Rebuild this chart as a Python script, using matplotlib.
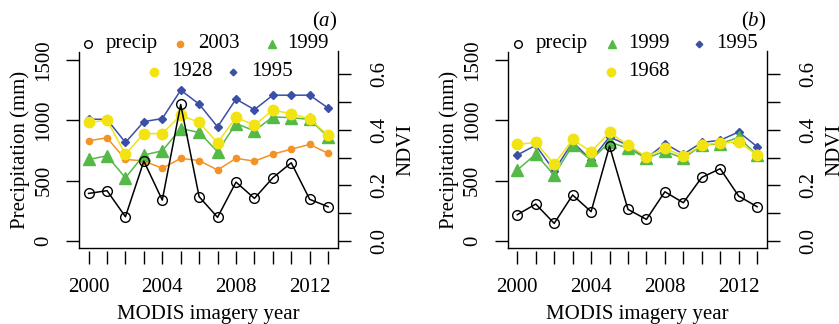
import numpy as np
import matplotlib
matplotlib.use("Agg")
import matplotlib.pyplot as plt

plt.rcParams['font.family'] = ['Liberation Serif', 'DejaVu Serif']
plt.rcParams['mathtext.fontset'] = 'custom'
plt.rcParams['mathtext.it'] = 'Liberation Serif:italic'
plt.rcParams['mathtext.rm'] = 'Liberation Serif'

# datos
years = np.arange(2000, 2014)

precip_a = [394, 417, 201, 662, 339, 1131, 367, 196, 488, 353, 524, 648, 345, 284]
ndvi_a_2003 = [0.360, 0.371, 0.293, 0.288, 0.261, 0.297, 0.289, 0.255, 0.297, 0.287, 0.312, 0.330, 0.347, 0.315]
ndvi_a_1999 = [0.293, 0.306, 0.227, 0.309, 0.324, 0.404, 0.390, 0.321, 0.422, 0.396, 0.446, 0.443, 0.437, 0.374]
ndvi_a_1928 = [0.426, 0.434, 0.312, 0.386, 0.386, 0.452, 0.426, 0.353, 0.444, 0.417, 0.470, 0.458, 0.438, 0.380]
ndvi_a_1995 = [0.438, 0.437, 0.354, 0.429, 0.440, 0.542, 0.492, 0.410, 0.510, 0.472, 0.524, 0.524, 0.524, 0.478]

precip_b = [218, 306, 146, 381, 243, 786, 262, 179, 408, 317, 527, 599, 372, 284]
ndvi_b_1999 = [0.255, 0.312, 0.237, 0.344, 0.291, 0.356, 0.333, 0.297, 0.323, 0.297, 0.344, 0.350, 0.372, 0.309]
ndvi_b_1995 = [0.309, 0.344, 0.252, 0.356, 0.291, 0.374, 0.344, 0.297, 0.350, 0.312, 0.354, 0.362, 0.392, 0.339]
ndvi_b_1968 = [0.347, 0.354, 0.276, 0.365, 0.321, 0.390, 0.344, 0.303, 0.333, 0.305, 0.344, 0.353, 0.356, 0.309]

orange = '#F39325'
green = '#55B947'
yellow = '#F2E313'
blue = '#3C4FA6'

# estilos de cada serie
styles = {
    '2003': dict(color=orange, marker='o', ms=4.5, z=2),
    '1999': dict(color=green, marker='^', ms=8, z=3),
    '1928': dict(color=yellow, marker='o', ms=7.5, z=4),
    '1968': dict(color=yellow, marker='o', ms=7.5, z=4),
    '1995': dict(color=blue, marker='D', ms=4.2, z=1),
}

FS = 15
W, H = 839, 324
fig = plt.figure(figsize=(W / 100, H / 100), dpi=100)

top_px, bot_px = 51.5, 248
ax_h = bot_px - top_px


def panel(left_px, right_px, precip, series, letter, legend_rows):
    ax = fig.add_axes([left_px / W, 1 - bot_px / H, (right_px - left_px) / W, ax_h / H])
    ax2 = ax.twinx()
    ax.set_zorder(ax2.get_zorder() + 1)
    ax.patch.set_visible(False)

    for name, vals in series:
        st = styles[name]
        ax2.plot(years, vals, color=st['color'], marker=st['marker'], ms=st['ms'],
                 lw=1.1, mec=st['color'], zorder=st['z'])
    ax.plot(years, precip, color='black', marker='o', ms=7, mfc='none', mec='black',
            mew=1.0, lw=1.1)

    ax.set_xlim(1999.48, 2013.52)
    ax.set_ylim(-58, 1570)
    ax2.set_ylim(-0.0252, 0.681)

    # marco: izquierda, derecha y abajo
    for s in ['top', 'right']:
        ax.spines[s].set_visible(False)
    for s in ['top', 'left', 'bottom']:
        ax2.spines[s].set_visible(False)
    ax.spines['bottom'].set_position(('outward', 2))
    ax.spines['bottom'].set_visible(False)
    ax.plot([0, 1], [0, 0], transform=ax.transAxes, color='black', lw=1, clip_on=False)
    ax.spines['left'].set_linewidth(1)
    ax2.spines['right'].set_linewidth(1)

    ax.set_xticks(years, labels=[str(y) if y % 4 == 0 else '' for y in years])
    ax.set_yticks([0, 500, 1000, 1500])
    ax2.set_yticks([0, 0.1, 0.2, 0.3, 0.4, 0.5, 0.6],
                   labels=['0.0', '', '0.2', '', '0.4', '', '0.6'])
    ax.tick_params(axis='both', length=9.5, width=1, labelsize=FS, pad=9)
    ax.tick_params(axis='x', pad=10)
    ax2.tick_params(axis='y', length=9.5, width=1, labelsize=FS, pad=14)
    for lab in ax.get_yticklabels() + ax2.get_yticklabels():
        lab.set_rotation(90)
        lab.set_verticalalignment('center')

    ax.set_xlabel('MODIS imagery year', fontsize=FS, labelpad=6)
    ax.set_ylabel('Precipitation (mm)', fontsize=FS, labelpad=3)
    ax2.set_ylabel('NDVI', fontsize=FS, labelpad=5, rotation=90)

    ax.text(1.0, (bot_px - 21) / ax_h, '(' + r'$\it{' + letter + '}$' + ')',
            transform=ax.transAxes, ha='right', va='center', fontsize=FS)

    # leyenda manual en dos filas
    width = right_px - left_px
    for row_y, items in legend_rows:
        fy = (bot_px - row_y) / ax_h
        for name, mx, tx in items:
            if name == 'precip':
                ax.plot([(mx - left_px) / width], [fy], transform=ax.transAxes, marker='o',
                        ms=5.5, mfc='none', mec='black', mew=1, clip_on=False, ls='none')
            else:
                st = styles[name]
                ms = st['ms'] * (0.8 if name != '2003' else 1.0)
                ax.plot([(mx - left_px) / width], [fy], transform=ax.transAxes,
                        marker=st['marker'], ms=ms, color=st['color'], clip_on=False, ls='none')
            ax.text((tx - left_px) / width, fy, name, transform=ax.transAxes,
                    ha='left', va='center', fontsize=FS)
    return ax, ax2


panel(79, 337.7, precip_a,
      [('1995', ndvi_a_1995), ('2003', ndvi_a_2003), ('1999', ndvi_a_1999), ('1928', ndvi_a_1928)],
      'a',
      [(43.5, [('precip', 88.3, 106), ('2003', 180, 198), ('1999', 271.7, 287)]),
       (71.5, [('1928', 154, 171), ('1995', 233, 251)])])

panel(507.7, 766.7, precip_b,
      [('1995', ndvi_b_1995), ('1999', ndvi_b_1999), ('1968', ndvi_b_1968)],
      'b',
      [(43.5, [('precip', 518.3, 536), ('1999', 611.7, 628), ('1995', 699.3, 716)]),
       (71.5, [('1968', 610.7, 628)])])

fig.savefig('out.png', dpi=100)
